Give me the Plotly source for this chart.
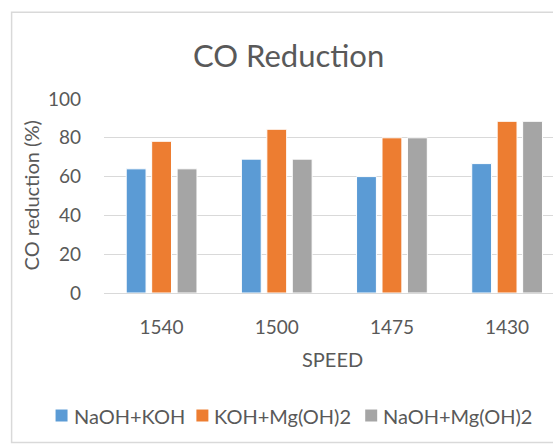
import plotly.graph_objects as go

categories = ["1540", "1500", "1475", "1430"]
series_names = ["NaOH+KOH", "KOH+Mg(OH)2", "NaOH+Mg(OH)2"]
naoh_koh = [64, 69, 60, 66.7]
koh_mgoh2 = [78.2, 84.4, 80, 88.5]
naoh_mgoh2 = [64, 69, 80, 88.5]
colors = ["#5B9BD5", "#ED7D31", "#A5A5A5"]
y_ticks = [0, 20, 40, 60, 80, 100]

W, H = 553, 446
L, R, T, B = 103.5, 553, 99, 293.3
FONT = "Lato"
TXT = "#595959"

def px(x):
    return (x - L) / (R - L)

def py(y):
    return (B - y) / (B - T)

fig = go.Figure()
for name, vals, c in zip(series_names, [naoh_koh, koh_mgoh2, naoh_mgoh2], colors):
    fig.add_trace(go.Bar(x=categories, y=vals, name=name, showlegend=False,
                         marker=dict(color=c, line=dict(color="white", width=1))))

shapes = [dict(type="rect", xref="paper", yref="paper",
               x0=px(11), x1=px(600), y0=py(443), y1=py(12),
               line=dict(color="#D9D9D9", width=1.5), fillcolor="rgba(0,0,0,0)", layer="below")]
annotations = [
    dict(text="CO Reduction", xref="paper", yref="paper", x=px(288), y=py(55),
         xanchor="center", yanchor="middle", showarrow=False,
         font=dict(size=31, color=TXT, family=FONT)),
    dict(text="CO reduction (%)", xref="paper", yref="paper", x=px(30), y=py(196),
         xanchor="center", yanchor="middle", showarrow=False, textangle=-90,
         font=dict(size=20, color=TXT, family=FONT)),
    dict(text="SPEED", xref="paper", yref="paper", x=px(332), y=py(359),
         xanchor="center", yanchor="middle", showarrow=False,
         font=dict(size=20, color=TXT, family=FONT)),
]

# custom legend (Excel style: small square close to the text)
legend_square_x = [55, 196, 365]
for name, c, sx in zip(series_names, colors, legend_square_x):
    shapes.append(dict(type="rect", xref="paper", yref="paper",
                       x0=px(sx), x1=px(sx + 12), y0=py(422), y1=py(410),
                       line=dict(width=0), fillcolor=c))
    annotations.append(dict(text=name, xref="paper", yref="paper", x=px(sx + 16), y=py(416),
                            xanchor="left", yanchor="middle", showarrow=False,
                            font=dict(size=20, color=TXT, family=FONT)))

fig.update_layout(
    width=W, height=H,
    margin=dict(l=L, r=0, t=T, b=H - B, pad=0),
    paper_bgcolor="white", plot_bgcolor="white",
    barmode="group", bargap=0.337, bargroupgap=0.22,
    font=dict(family=FONT, color=TXT),
    showlegend=False,
    xaxis=dict(type="category", range=[-0.5, (R - L) / 115.3 - 0.5], showgrid=False,
               zeroline=False, showline=False, ticks="", ticklabelstandoff=21,
               tickfont=dict(size=19, color=TXT)),
    yaxis=dict(range=[0, 100], tickvals=y_ticks, showgrid=True, gridcolor="#D9D9D9",
               gridwidth=1, zeroline=True, zerolinecolor="#D9D9D9", zerolinewidth=1,
               showline=False, ticks="", ticklabelstandoff=22,
               tickfont=dict(size=19, color=TXT)),
    shapes=shapes,
    annotations=annotations,
)

fig.write_html("out.html")
